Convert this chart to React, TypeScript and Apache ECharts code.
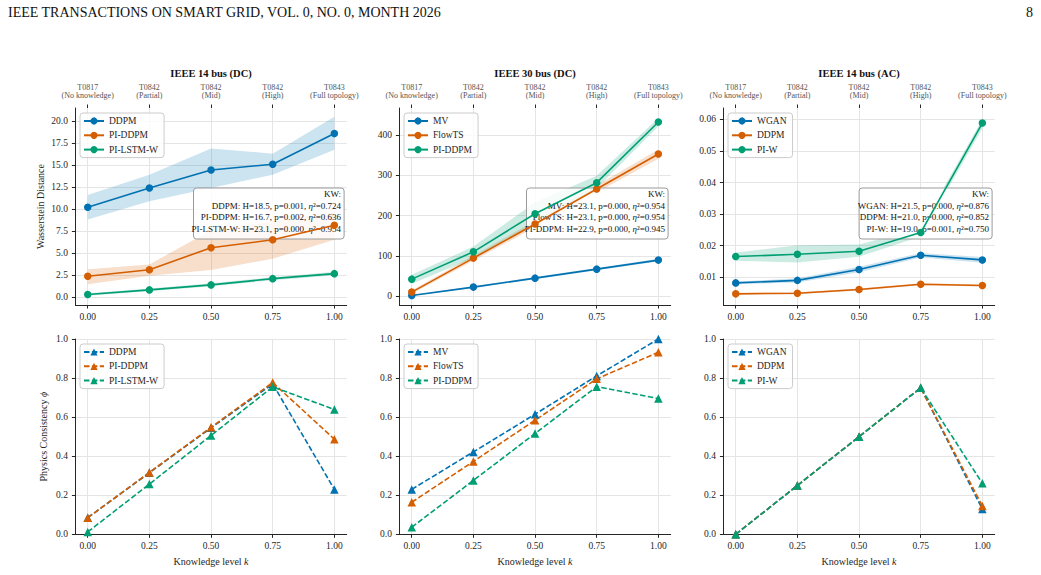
import React, { useEffect, useRef } from "react";
import * as echarts from "echarts";

// ---------------- data ----------------
const knowledgeLevels = [0, 0.25, 0.5, 0.75, 1.0];
const xTickValues = [0, 0.25, 0.5, 0.75, 1.0];
const topTickLabels = [
  "T0817\n(No knowledge)",
  "T0842\n(Partial)",
  "T0842\n(Mid)",
  "T0842\n(High)",
  "T0843\n(Full topology)",
];

const panelTitles = ["IEEE 14 bus (DC)", "IEEE 30 bus (DC)", "IEEE 14 bus (AC)"];
const methods14dc = ["DDPM", "PI-DDPM", "PI-LSTM-W"];
const methods30dc = ["MV", "FlowTS", "PI-DDPM"];
const methods14ac = ["WGAN", "DDPM", "PI-W"];

// Wasserstein distance, IEEE 14 bus (DC)
const w14dcDDPM = [10.2, 12.4, 14.45, 15.1, 18.6];
const w14dcDDPMLo = [8.8, 10.9, 12.4, 13.9, 16.75];
const w14dcDDPMHi = [11.6, 13.9, 16.9, 16.3, 20.5];
const w14dcPIDDPM = [2.35, 3.1, 5.6, 6.5, 8.15];
const w14dcPIDDPMLo = [1.45, 2.4, 3.05, 4.35, 6.5];
const w14dcPIDDPMHi = [3.15, 3.7, 7.6, 8.6, 9.7];
const w14dcPILSTM = [0.27, 0.8, 1.37, 2.08, 2.65];
const w14dcPILSTMLo = [0.12, 0.65, 1.2, 1.9, 2.45];
const w14dcPILSTMHi = [0.42, 0.95, 1.55, 2.25, 2.85];

// Wasserstein distance, IEEE 30 bus (DC)
const w30dcMV = [1.7, 22.4, 44.7, 67.0, 89.4];
const w30dcMVLo = [0.7, 20.4, 42.2, 64.0, 85.9];
const w30dcMVHi = [2.7, 24.4, 47.2, 70.0, 92.9];
const w30dcFlow = [10.0, 94.4, 178.9, 265.8, 352.8];
const w30dcFlowLo = [6.0, 88.0, 171.0, 257.0, 341.0];
const w30dcFlowHi = [14.0, 101.0, 187.0, 275.0, 364.0];
const w30dcPIDDPM = [42.2, 110.0, 204.6, 281.6, 432.3];
const w30dcPIDDPMLo = [31.0, 94.0, 181.0, 268.0, 421.0];
const w30dcPIDDPMHi = [53.0, 123.0, 233.0, 299.0, 442.0];

// Wasserstein distance, IEEE 14 bus (AC)
const w14acWGAN = [0.0082, 0.009, 0.01244, 0.01696, 0.01548];
const w14acWGANLo = [0.0078, 0.0083, 0.01154, 0.01626, 0.01458];
const w14acWGANHi = [0.0086, 0.0097, 0.01334, 0.01766, 0.01638];
const w14acDDPM = [0.00473, 0.00494, 0.0061, 0.00778, 0.00736];
const w14acDDPMLo = [0.00443, 0.00464, 0.0058, 0.00748, 0.00706];
const w14acDDPMHi = [0.00503, 0.00524, 0.0064, 0.00808, 0.00766];
const w14acPIW = [0.01654, 0.01728, 0.01823, 0.02414, 0.05884];
const w14acPIWLo = [0.0152, 0.0147, 0.0165, 0.0229, 0.0571];
const w14acPIWHi = [0.0178, 0.0201, 0.0204, 0.0255, 0.06];

// Physics consistency
const phi14dcDDPM = [0.085, 0.315, 0.545, 0.77, 0.23];
const phi14dcPIDDPM = [0.085, 0.317, 0.548, 0.777, 0.487];
const phi14dcPILSTM = [0.012, 0.257, 0.506, 0.755, 0.639];
const phi30dcMV = [0.23, 0.422, 0.615, 0.811, 1.0];
const phi30dcFlow = [0.164, 0.373, 0.584, 0.796, 0.932];
const phi30dcPIDDPM = [0.036, 0.276, 0.516, 0.756, 0.695];
const phi14acWGAN = [0.0, 0.25, 0.5, 0.75, 0.129];
const phi14acDDPM = [0.0, 0.25, 0.5, 0.75, 0.145];
const phi14acPIW = [0.0, 0.25, 0.5, 0.75, 0.261];

// y ticks
const yTicks14dc = [0, 2.5, 5, 7.5, 10, 12.5, 15, 17.5, 20];
const yTicks30dc = [0, 100, 200, 300, 400];
const yTicks14ac = [0.01, 0.02, 0.03, 0.04, 0.05, 0.06];
const yTicksPhi = [0, 0.2, 0.4, 0.6, 0.8, 1.0];

// Kruskal-Wallis annotations
const kw14dc = [
  "KW:",
  "DDPM: H=18.5, p=0.001, η²=0.724",
  "PI-DDPM: H=16.7, p=0.002, η²=0.636",
  "PI-LSTM-W: H=23.1, p=0.000, η²=0.954",
];
const kw30dc = [
  "KW:",
  "MV: H=23.1, p=0.000, η²=0.954",
  "FlowTS: H=23.1, p=0.000, η²=0.954",
  "PI-DDPM: H=22.9, p=0.000, η²=0.945",
];
const kw14ac = [
  "KW:",
  "WGAN: H=21.5, p=0.000, η²=0.876",
  "DDPM: H=21.0, p=0.000, η²=0.852",
  "PI-W: H=19.0, p=0.001, η²=0.750",
];

const headerText = "IEEE TRANSACTIONS ON SMART GRID, VOL. 0, NO. 0, MONTH 2026";
const pageNumber = "8";
const yNameTop = "Wasserstein Distance";
const yNameBottom = "Physics Consistency {i|ϕ}";
const xNameBottom = "Knowledge level {i|k}";

// ---------------- style / layout ----------------
const SERIF = "'Liberation Serif', 'Times New Roman', serif";
const INK = "#262626";
const GRID_COLOR = "#e5e5e5";
const COLORS = ["#0072B2", "#D55E00", "#009E73"];
const BAND_COLORS = ["rgba(0,114,178,0.2)", "rgba(213,94,0,0.2)", "rgba(0,158,115,0.2)"];
const GL = [75.4, 399.4, 723.4];
const GW = 271.3;
const ROW_TOP = [108, 339];
const ROW_H = [197, 195.3];
const KW_W = [150.6, 141.6, 133];

const zip = (ys: number[]) => knowledgeLevels.map((x, i) => [x, ys[i]]);

function buildOption() {
  const topPanels = [
    {
      names: methods14dc,
      vals: [w14dcDDPM, w14dcPIDDPM, w14dcPILSTM],
      lo: [w14dcDDPMLo, w14dcPIDDPMLo, w14dcPILSTMLo],
      hi: [w14dcDDPMHi, w14dcPIDDPMHi, w14dcPILSTMHi],
      yMin: -0.92,
      yMax: 21.5,
      yTicks: yTicks14dc,
      digits: 1,
      kw: kw14dc,
    },
    {
      names: methods30dc,
      vals: [w30dcMV, w30dcFlow, w30dcPIDDPM],
      lo: [w30dcMVLo, w30dcFlowLo, w30dcPIDDPMLo],
      hi: [w30dcMVHi, w30dcFlowHi, w30dcPIDDPMHi],
      yMin: -22,
      yMax: 467,
      yTicks: yTicks30dc,
      digits: 0,
      kw: kw30dc,
    },
    {
      names: methods14ac,
      vals: [w14acWGAN, w14acDDPM, w14acPIW],
      lo: [w14acWGANLo, w14acDDPMLo, w14acPIWLo],
      hi: [w14acWGANHi, w14acDDPMHi, w14acPIWHi],
      yMin: 0.0012,
      yMax: 0.0636,
      yTicks: yTicks14ac,
      digits: 2,
      kw: kw14ac,
    },
  ];
  const bottomPanels = [
    { names: methods14dc, vals: [phi14dcDDPM, phi14dcPIDDPM, phi14dcPILSTM] },
    { names: methods30dc, vals: [phi30dcMV, phi30dcFlow, phi30dcPIDDPM] },
    { names: methods14ac, vals: [phi14acWGAN, phi14acDDPM, phi14acPIW] },
  ];

  const grids: any[] = [];
  const xAxes: any[] = [];
  const yAxes: any[] = [];
  const series: any[] = [];
  const legends: any[] = [];
  const graphics: any[] = [];

  const tickLine = { color: INK, width: 1 };
  const labelBase = { fontFamily: SERIF, fontSize: 9.5, color: INK };

  for (let row = 0; row < 2; row++) {
    for (let col = 0; col < 3; col++) {
      const gi = row * 3 + col;
      grids.push({ left: GL[col], top: ROW_TOP[row], width: GW, height: ROW_H[row] });
      xAxes.push({
        type: "value",
        gridIndex: gi,
        position: "bottom",
        min: -0.05,
        max: 1.05,
        axisLine: { show: true, onZero: false, lineStyle: tickLine },
        axisTick: { show: true, length: 3.5, customValues: xTickValues, lineStyle: tickLine },
        axisLabel: {
          ...labelBase,
          customValues: xTickValues,
          margin: 6.5,
          formatter: (v: number) => v.toFixed(2),
        },
        splitLine: { show: true, lineStyle: { color: GRID_COLOR, width: 1 } },
      });
      const p = row === 0 ? topPanels[col] : null;
      const yMin = p ? p.yMin : 0;
      const yMax = p ? p.yMax : 1;
      const yTicks = p ? p.yTicks : yTicksPhi;
      const digits = p ? p.digits : 1;
      yAxes.push({
        type: "value",
        gridIndex: gi,
        min: yMin,
        max: yMax,
        axisLine: { show: true, onZero: false, lineStyle: tickLine },
        axisTick: { show: true, length: 3.5, customValues: yTicks, lineStyle: tickLine },
        axisLabel: {
          ...labelBase,
          customValues: yTicks,
          margin: 7.5,
          formatter: (v: number) => v.toFixed(digits),
        },
        splitLine: { show: true, lineStyle: { color: GRID_COLOR, width: 1 } },
      });

      const names = row === 0 ? topPanels[col].names : bottomPanels[col].names;
      const vals = row === 0 ? topPanels[col].vals : bottomPanels[col].vals;
      names.forEach((name, j) => {
        const color = COLORS[j];
        if (row === 0) {
          const lo = topPanels[col].lo[j];
          const hi = topPanels[col].hi[j];
          const fill = BAND_COLORS[j];
          series.push({
            type: "custom",
            name: `band-${gi}-${j}`,
            xAxisIndex: gi,
            yAxisIndex: gi,
            data: knowledgeLevels.map((x, k) => [x, lo[k], hi[k]]),
            encode: { x: 0, y: [1, 2] },
            silent: true,
            z: 1,
            renderItem: (params: any, api: any) => {
              if (params.dataIndex !== 0) return null;
              const upper = knowledgeLevels.map((x, k) => api.coord([x, hi[k]]));
              const lower = knowledgeLevels.map((x, k) => api.coord([x, lo[k]])).reverse();
              return {
                type: "polygon",
                shape: { points: upper.concat(lower) },
                style: { fill, stroke: "none" },
              };
            },
          });
        }
        series.push({
          type: "line",
          name: `${name}@${gi}`,
          xAxisIndex: gi,
          yAxisIndex: gi,
          data: zip(vals[j]),
          symbol: row === 0 ? "circle" : "triangle",
          symbolSize: row === 0 ? 7.5 : 8.5,
          clip: false,
          lineStyle: {
            color,
            width: 1.6,
            type: row === 0 ? "solid" : [5.5, 2.4],
          },
          itemStyle: { color },
          emphasis: { disabled: true },
          z: 3,
        });
      });

      legends.push({
        orient: "vertical",
        left: GL[col] + 4.6,
        top: ROW_TOP[row] + 5,
        data: names.map((n) => `${n}@${gi}`),
        formatter: (n: string) => n.split("@")[0],
        itemWidth: 20,
        itemHeight: 9,
        itemGap: 4.3,
        selectedMode: false,
        textStyle: { fontFamily: SERIF, fontSize: 9.5, color: INK, lineHeight: 9 },
        padding: [3, 6, 3, 3],
        backgroundColor: "rgba(255,255,255,0.8)",
        borderColor: "#cccccc",
        borderWidth: 1,
        borderRadius: 3,
      });
    }
  }

  // top axes with test-case labels
  for (let col = 0; col < 3; col++) {
    xAxes.push({
      type: "value",
      gridIndex: col,
      position: "top",
      min: -0.05,
      max: 1.05,
      axisLine: { show: false, onZero: false },
      axisTick: { show: true, length: 3.5, customValues: xTickValues, lineStyle: tickLine },
      axisLabel: {
        customValues: xTickValues,
        fontFamily: SERIF,
        fontSize: 8,
        lineHeight: 8.5,
        color: "#555555",
        margin: 8,
        formatter: (v: number) => {
          const idx = xTickValues.findIndex((t) => Math.abs(t - v) < 1e-9);
          return idx >= 0 ? topTickLabels[idx] : "";
        },
      },
      splitLine: { show: false },
    });
  }

  // header
  graphics.push({
    type: "text",
    x: 8,
    y: 12,
    style: { text: headerText, fontFamily: SERIF, fontSize: 14, fill: "#111", align: "left", verticalAlign: "middle" },
  });
  graphics.push({
    type: "text",
    x: 1033,
    y: 12,
    style: { text: pageNumber, fontFamily: SERIF, fontSize: 14, fill: "#111", align: "right", verticalAlign: "middle" },
  });

  for (let col = 0; col < 3; col++) {
    const cx = GL[col] + GW / 2;
    graphics.push({
      type: "text",
      x: cx,
      y: 73,
      style: {
        text: panelTitles[col],
        fontFamily: SERIF,
        fontSize: 10.5,
        fontWeight: "bold",
        fill: "#111",
        align: "center",
        verticalAlign: "middle",
      },
    });
    graphics.push({
      type: "text",
      x: cx,
      y: 561.7,
      style: {
        text: xNameBottom,
        fontFamily: SERIF,
        fontSize: 10,
        fill: INK,
        align: "center",
        verticalAlign: "middle",
        rich: { i: { fontFamily: SERIF, fontSize: 10, fontStyle: "italic", fill: INK } },
      },
    });
    // KW box
    const right = GL[col] + GW - 2.6;
    const w = KW_W[col];
    graphics.push({
      type: "rect",
      z: 2,
      shape: { x: right - w, y: 188, width: w, height: 51, r: 3 },
      style: { fill: "rgba(255,255,255,0.82)", stroke: "#9a9a9a", lineWidth: 1 },
    });
    topPanels[col].kw.forEach((line, k) => {
      graphics.push({
        type: "text",
        z: 2.5,
        x: right - 3,
        y: 194 + k * 11.7,
        style: {
          text: line.replace("η²", "{e|η}²"),
          fontFamily: SERIF,
          fontSize: 9,
          fill: "#111",
          align: "right",
          verticalAlign: "middle",
          rich: { e: { fontFamily: SERIF, fontSize: 9, fontStyle: "italic", fill: "#111" } },
        },
      });
    });
  }

  graphics.push({
    type: "text",
    x: 40,
    y: ROW_TOP[0] + ROW_H[0] / 2,
    rotation: Math.PI / 2,
    style: { text: yNameTop, fontFamily: SERIF, fontSize: 10, fill: INK, align: "center", verticalAlign: "middle" },
  });
  graphics.push({
    type: "text",
    x: 43,
    y: ROW_TOP[1] + ROW_H[1] / 2,
    rotation: Math.PI / 2,
    style: {
      text: yNameBottom,
      fontFamily: SERIF,
      fontSize: 10,
      fill: INK,
      align: "center",
      verticalAlign: "middle",
      rich: { i: { fontFamily: SERIF, fontSize: 10, fontStyle: "italic", fill: INK } },
    },
  });

  return {
    animation: false,
    backgroundColor: "#ffffff",
    textStyle: { fontFamily: SERIF },
    grid: grids,
    xAxis: xAxes,
    yAxis: yAxes,
    legend: legends,
    series,
    graphic: graphics,
  };
}

export default function App() {
  const ref = useRef<HTMLDivElement>(null);
  useEffect(() => {
    if (!ref.current) return;
    const chart = echarts.init(ref.current, null, { renderer: "svg" });
    chart.setOption(buildOption() as any);
    return () => chart.dispose();
  }, []);
  return (
    <div
      ref={ref}
      style={{ position: "absolute", left: 0, top: 0, width: 1041, height: 575, background: "#fff" }}
    />
  );
}
